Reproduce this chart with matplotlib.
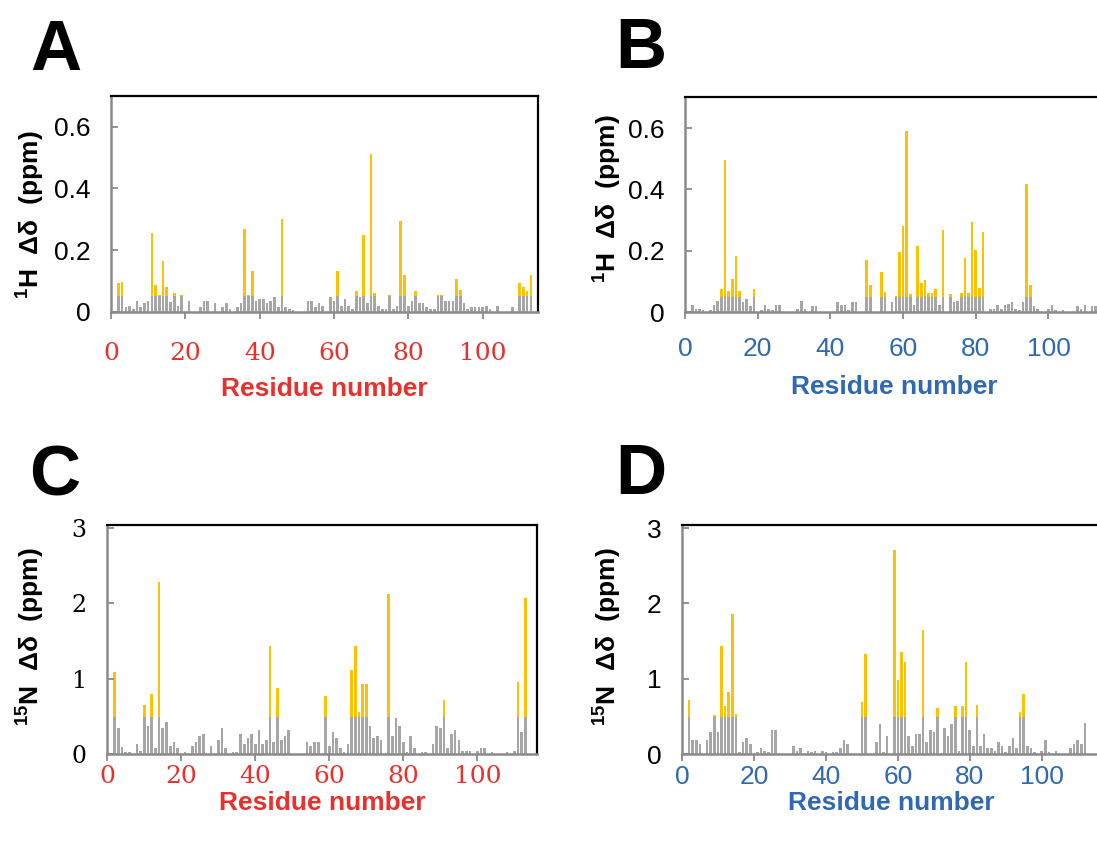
import numpy as np
import matplotlib
matplotlib.use("Agg")
import matplotlib.pyplot as plt

# Chemical shift perturbations per residue (residues 1..113), 0 = no data
residues = np.arange(1, 114)

dh_a = [0, .093, .098, .014, .020, .009, .035, .014, .027, .035,
        .254, .086, .054, .164, .079, .030, .060, .020, .054, 0,
        .035, 0, 0, .014, .035, .035, 0, .027, 0, .014,
        .027, .009, 0, .014, .027, .267, .055, .132, .035, .040,
        .040, .027, .035, .047, .014, .300, .014, .009, .005, 0,
        0, 0, .035, .035, .014, .027, .020, 0, .047, .035,
        .132, .020, .040, .020, .009, .066, .047, .248, .027, .513,
        .060, .020, .009, .009, .053, .009, .020, .293, .118, .020,
        .035, .066, .027, .027, .014, .009, .009, .053, .053, .035,
        .035, .035, .105, .072, .027, .009, .014, .014, .014, .014,
        .020, .009, 0, .020, 0, 0, 0, .014, 0, .092,
        .079, .066, .118]

dh_b = [0, .024, .012, .012, .008, 0, .008, .024, .036, .077,
        .497, .070, .109, .183, .070, .032, .044, .020, .077, 0,
        .008, .024, .012, .008, .024, .024, 0, 0, 0, 0,
        .012, .037, .012, 0, .020, .020, 0, 0, 0, 0,
        0, .032, .024, .024, .008, .033, .033, 0, 0, .170,
        .090, 0, 0, .130, .065, 0, .035, .052, .196, .280,
        .589, .058, .024, .215, .097, .104, .064, .064, .077, .024,
        .268, 0, .058, .032, .038, .064, .176, .064, .294, .203,
        .078, .261, 0, .012, .012, .024, .012, .024, .027, .033,
        .012, .008, .033, .418, .090, .020, .012, 0, 0, .012,
        .024, .008, 0, .008, 0, 0, 0, .020, .012, .024,
        0, .020, .020]

dn_c = [0, 1.09, 0.35, 0.10, 0.03, 0.03, 0, 0.13, 0.05, 0.66,
        0.38, 0.80, 0.08, 2.28, 0.35, 0.43, 0.11, 0.16, 0.08, 0,
        0.03, 0, 0.11, 0.16, 0.24, 0.27, 0, 0.11, 0, 0.19,
        0.35, 0.08, 0, 0.03, 0.03, 0.27, 0.13, 0.21, 0.27, 0.13,
        0.32, 0.13, 0.19, 1.43, 0.16, 0.88, 0.19, 0.24, 0.32, 0,
        0, 0, 0, 0.16, 0.11, 0.16, 0.16, 0, 0.77, 0.11,
        0.29, 0.21, 0.08, 0.03, 0.13, 1.12, 1.43, 0.56, 0.93, 0.93,
        0.37, 0.21, 0.24, 0.19, 0, 2.12, 0.24, 0.48, 0.37, 0.16,
        0.03, 0.24, 0.08, 0, 0.03, 0.03, 0, 0.13, 0.37, 0.35,
        0.72, 0.08, 0.27, 0.32, 0.19, 0.05, 0.05, 0.05, 0, 0.05,
        0.08, 0.08, 0, 0.03, 0, 0, 0, 0.03, 0, 0.05,
        0.96, 0.29, 2.07]

dn_d = [0, 0.72, 0.19, 0.19, 0.13, 0, 0.19, 0.29, 0.52, 0.29,
        1.43, 0.64, 0.82, 1.86, 0.53, 0.03, 0.16, 0.21, 0.13, 0,
        0.03, 0.08, 0.05, 0.03, 0.32, 0.32, 0, 0, 0, 0,
        0.11, 0.05, 0.08, 0, 0.05, 0.03, 0.05, 0, 0.05, 0.03,
        0, 0.03, 0.03, 0.08, 0.19, 0.13, 0, 0, 0, 0.69,
        1.33, 0, 0, 0.16, 0.40, 0.03, 0.24, 0, 2.71, 0.98,
        1.35, 1.22, 0.24, 0.11, 0.27, 0.27, 1.65, 0.16, 0.32, 0.29,
        0.61, 0, 0.35, 0.24, 0.40, 0.64, 0.05, 0.64, 1.22, 0.32,
        0.11, 0.66, 0.11, 0.27, 0.08, 0.08, 0.05, 0.16, 0.11, 0.03,
        0.11, 0.21, 0.08, 0.56, 0.80, 0.11, 0.08, 0.03, 0, 0.05,
        0.19, 0.03, 0, 0.05, 0, 0, 0, 0.08, 0.13, 0.19,
        0.13, 0.42, 0]

h_thresh = 0.05
n_thresh = 0.5
x_ticks = [0, 20, 40, 60, 80, 100]
h_ticks = [0, 0.2, 0.4, 0.6]
h_ticklabels = ["0", "0.2", "0.4", "0.6"]
n_ticks = [0, 1, 2, 3]
n_ticklabels = ["0", "1", "2", "3"]

W, H = 1097, 843
GOLD = "#FFC000"
GREY = "#A6A6A6"
AXGREY = "#8A8A8A"
RED = "#E8302C"
BLUE = "#2F69B3"
SANS = "Liberation Sans"
SERIF = "DejaVu Serif"

plt.rcParams["mathtext.fontset"] = "custom"
plt.rcParams["mathtext.rm"] = "Liberation Sans:bold"
plt.rcParams["mathtext.bf"] = "Liberation Sans:bold"

fig = plt.figure(figsize=(W / 100, H / 100), dpi=100)


def box(left, top, width, height):
    return [left / W, 1 - (top + height) / H, width / W, height / H]


def panel(rect, values, thresh, xmax, ylim, yticks, yticklabels,
          xcolor, xfont, xsize, xpad, yfont, ysize):
    ax = fig.add_axes(rect)
    v = np.asarray(values, dtype=float)
    base = np.minimum(v, thresh)
    over = np.clip(v - thresh, 0, None)
    ax.bar(residues, base, width=0.72, color=GREY, linewidth=0)
    ax.bar(residues, over, width=0.72, bottom=base, color=GOLD, linewidth=0)
    ax.set_xlim(0, xmax)
    ax.set_ylim(*ylim)
    ax.set_xticks(x_ticks)
    ax.set_xticklabels([str(t) for t in x_ticks], fontfamily=xfont,
                       fontsize=xsize, color=xcolor)
    ax.set_yticks(yticks)
    ax.set_yticklabels(yticklabels, fontfamily=yfont, fontsize=ysize,
                       color="black")
    ax.tick_params(axis="x", direction="out", length=5, width=1.3,
                   color=AXGREY, pad=xpad)
    ax.tick_params(axis="y", direction="in", length=5, width=1.3,
                   color=AXGREY, pad=15)
    for side in ("left", "bottom"):
        ax.spines[side].set_color(AXGREY)
        ax.spines[side].set_linewidth(1.8)
    for side in ("top", "right"):
        ax.spines[side].set_color("black")
        ax.spines[side].set_linewidth(1.6)
    return ax


panel(box(111, 96, 427.3, 215.7), dh_a, h_thresh, 115, (0, 0.70),
      h_ticks, h_ticklabels, RED, SERIF, 18, 17, SANS, 19)
panel(box(685, 97.3, 418, 215), dh_b, h_thresh, 115, (0, 0.70),
      h_ticks, h_ticklabels, BLUE, SANS, 19, 12.5, SANS, 19)
panel(box(107.3, 525, 430, 229.3), dn_c, n_thresh, 116.2, (0, 3.04),
      n_ticks, n_ticklabels, RED, SERIF, 18, 2.5, SERIF, 17)
panel(box(682, 525, 418, 229.3), dn_d, n_thresh, 116.2, (0, 3.04),
      n_ticks, n_ticklabels, BLUE, SANS, 19, 2.5, SANS, 19)


def ftext(x, y, s, **kw):
    fig.text(x / W, 1 - y / H, s, **kw)


# panel letters
for letter, x, y in (("A", 56, 70), ("B", 641, 68), ("C", 55, 495), ("D", 641, 494)):
    ftext(x, y, letter, fontsize=51, fontweight="bold", family=SANS,
          ha="center", va="baseline")

# axis titles
h_label = "$^{1}$H  Δδ  (ppm)"
n_label = "$^{15}$N  Δδ  (ppm)"
for s, x, y in ((h_label, 30, 215), (h_label, 607, 199),
                (n_label, 30, 637), (n_label, 607, 637)):
    ftext(x, y, s, fontsize=19, fontweight="bold", family=SANS,
          rotation=90, ha="center", va="center")

for x, y, c in ((324.5, 389, RED), (894, 387, BLUE),
                (322, 803, RED), (891, 803, BLUE)):
    ftext(x, y, "Residue number", fontsize=19, fontweight="bold",
          family=SANS, color=c, ha="center", va="center")

fig.savefig("out.png", dpi=100)
